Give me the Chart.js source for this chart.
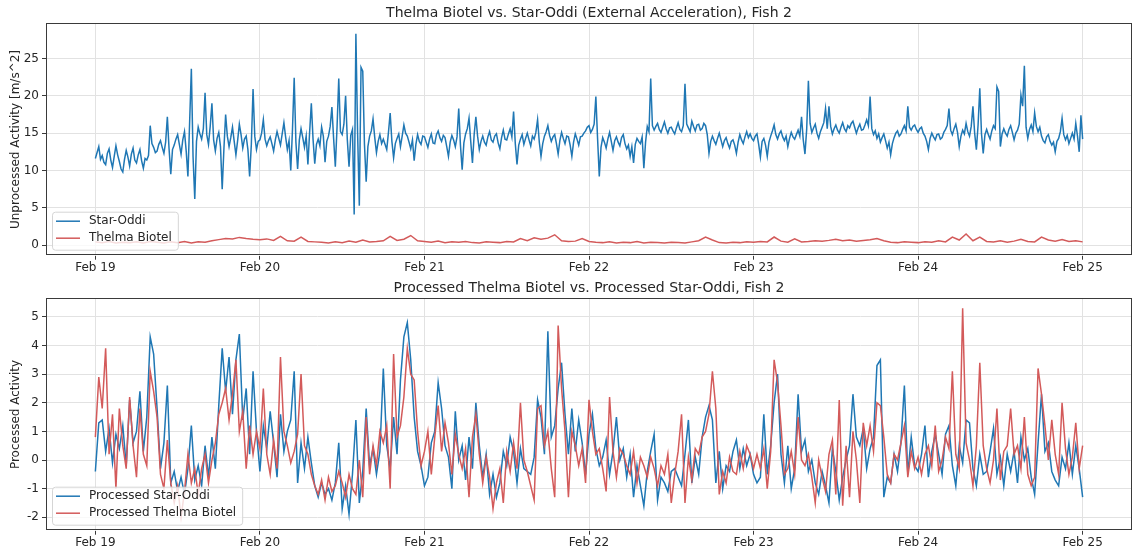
<!DOCTYPE html>
<html>
<head>
<meta charset="utf-8">
<script src="https://cdn.jsdelivr.net/npm/chart.js@4.4.1/dist/chart.umd.min.js"></script>
<style>
  body { margin: 0; background: #fff; }
  canvas { display: block; }
</style>
</head>
<body>
<canvas id="top" width="1134" height="275"></canvas>
<canvas id="bottom" width="1134" height="276"></canvas>
<script>
// x positions are hours since Feb 19 00:00
const dayLabels = ['Feb 19', 'Feb 20', 'Feb 21', 'Feb 22', 'Feb 23', 'Feb 24', 'Feb 25'];
const topYTicks = [0, 5, 10, 15, 20, 25];
const bottomYTicks = [-2, -1, 0, 1, 2, 3, 4, 5];

// Star-Oddi external acceleration, every 15 min (one row = 6 h)
const starOddi = [
  11.6, 12.4, 13.2, 11.5, 12.0, 11.1, 10.8, 12.3, 12.9, 11.4, 10.4, 11.9, 13.3, 12.1, 11.2, 10.2, 9.8, 11.5, 12.7, 11.8, 10.6, 12.2, 13.0, 11.4,
  11.0, 12.1, 12.8, 11.3, 10.3, 11.6, 11.4, 12.0, 16.0, 13.6, 13.1, 12.4, 12.6, 13.5, 14.0, 13.1, 12.3, 13.8, 17.2, 12.9, 9.5, 12.8, 13.4, 14.2,
  14.8, 13.5, 12.2, 14.1, 15.2, 12.6, 9.2, 16.5, 23.6, 11.8, 6.2, 13.9, 15.8, 14.9, 14.2, 15.6, 20.4, 14.8, 13.5, 15.9, 19.0, 14.1, 12.6, 14.3,
  15.1, 13.2, 7.5, 12.9, 17.5, 14.6, 13.2, 14.4, 15.8, 13.9, 12.1, 14.0, 16.2, 14.8, 13.0, 14.2, 14.6, 12.8, 9.2, 13.5, 20.9, 14.6, 12.8, 13.9,
  14.1, 15.0, 16.8, 14.2, 13.3, 14.0, 14.5, 13.6, 12.6, 14.1, 15.2, 14.3, 13.4, 14.9, 16.4, 14.5, 12.8, 14.0, 10.0, 15.5, 22.4, 13.8, 10.2, 14.1,
  15.6, 14.4, 13.1, 14.6, 10.8, 15.1, 19.0, 14.2, 10.9, 13.5, 14.2, 13.3, 15.8, 14.6, 11.1, 13.9, 14.6, 15.9, 18.5, 14.3, 10.5, 15.8, 22.3, 15.2,
  14.8, 16.2, 20.0, 14.1, 10.5, 14.7, 15.5, 4.1, 28.3, 15.0, 5.3, 23.8, 23.3, 13.5, 8.5, 13.2, 14.6, 15.3, 16.9, 14.4, 12.4, 13.9, 14.8, 13.6,
  14.2, 13.5, 12.8, 15.1, 17.7, 13.9, 11.7, 13.6, 14.3, 14.9, 13.2, 14.6, 16.1, 15.0, 14.6, 13.8, 12.9, 14.1, 11.3, 13.5, 14.8, 13.9, 13.5, 14.6,
  14.5, 13.8, 13.1, 14.2, 14.9, 13.7, 13.6, 14.8, 15.3, 14.4, 13.9, 14.7, 14.4, 13.2, 11.9, 13.8, 14.7, 14.1, 13.2, 14.5, 18.3, 13.4, 10.1, 13.7,
  14.9, 15.6, 17.0, 13.9, 11.0, 14.8, 17.2, 14.6, 12.8, 13.9, 14.6, 13.8, 13.4, 14.5, 15.2, 14.1, 13.8, 14.6, 14.9, 13.7, 12.9, 14.4, 15.4, 14.2,
  14.1, 14.9, 15.6, 14.5, 17.9, 13.6, 10.8, 13.4, 14.2, 14.8, 13.5, 14.3, 15.0, 14.1, 13.3, 14.6, 14.2, 15.1, 16.8, 13.8, 11.9, 13.6, 14.6, 15.2,
  16.0, 14.7, 13.9, 14.5, 14.8, 13.6, 12.2, 14.0, 15.1, 14.3, 13.6, 14.6, 14.5, 13.4, 11.9, 13.8, 14.9, 14.2, 13.4, 14.5, 14.6, 15.0, 15.3, 15.8,
  16.0, 15.1, 15.5, 16.2, 19.9, 14.3, 9.2, 13.1, 14.4, 13.8, 13.0, 14.2, 15.1, 13.9, 12.7, 14.0, 14.5, 13.8, 13.3, 14.4, 14.8, 13.6, 12.9, 13.4,
  11.9, 13.2, 11.0, 13.5, 14.3, 13.9, 13.6, 14.5, 10.3, 13.8, 15.9, 15.2, 22.3, 16.0, 15.4, 15.9, 16.3, 15.5, 15.1, 15.8, 16.5, 15.6, 15.0, 15.7,
  15.8, 15.3, 14.9, 15.7, 16.4, 15.5, 15.2, 16.0, 21.6, 16.2, 15.7, 15.2, 16.6, 15.9, 15.3, 16.1, 16.2, 15.4, 15.6, 16.3, 16.0, 14.8, 12.3, 13.9,
  14.6, 14.0, 13.5, 14.3, 15.0, 14.1, 13.2, 14.0, 14.4, 13.6, 13.0, 13.9, 14.1, 13.4, 12.3, 13.8, 14.8, 14.1, 13.6, 14.5, 15.2, 14.4, 14.9, 14.3,
  14.0, 14.6, 14.9, 13.5, 11.8, 13.9, 14.3, 13.4, 11.9, 13.8, 14.6, 15.3, 16.1, 14.8, 14.2, 14.9, 15.3, 14.5, 14.0, 14.6, 13.2, 14.3, 15.1, 14.5,
  14.2, 14.8, 15.4, 14.6, 17.2, 14.1, 12.2, 15.5, 22.0, 16.3, 15.1, 15.7, 16.2, 15.0, 14.3, 15.2, 15.8, 16.4, 18.3, 15.6, 18.6, 15.9, 14.9, 15.6,
  16.1, 15.4, 15.0, 15.8, 16.4, 15.6, 15.2, 16.0, 15.7, 16.3, 16.6, 15.8, 15.0, 15.7, 16.2, 15.4, 15.5, 16.1, 16.8, 16.0, 19.9, 15.6, 14.8, 15.3,
  14.3, 14.9, 13.8, 14.4, 14.9, 14.0, 13.0, 13.8, 12.1, 13.6, 14.4, 15.0, 15.3, 14.6, 14.9, 15.5, 16.0, 15.3, 18.6, 15.8, 15.4, 15.9, 16.1, 15.5,
  15.1, 15.6, 15.8, 15.0, 14.6, 13.9, 12.8, 14.3, 15.0, 14.5, 14.1, 14.8, 14.9, 14.2, 14.4, 15.1, 15.5, 16.0, 18.3, 15.4, 14.8, 15.6, 16.2, 15.1,
  13.2, 14.6, 15.4, 14.9, 16.3, 15.2, 14.6, 15.9, 18.6, 15.0, 12.8, 16.1, 21.0, 14.9, 12.3, 14.8, 15.5, 14.8, 14.2, 15.3, 16.0, 15.6, 21.2, 20.6,
  13.2, 14.9, 15.6, 15.0, 14.6, 15.5, 16.0, 15.1, 14.1, 15.0, 15.4, 16.2, 20.1, 18.6, 24.0, 15.8, 14.3, 15.5, 16.1, 15.2, 17.7, 15.9, 15.2, 15.8,
  14.6, 14.0, 13.7, 14.5, 14.8, 13.9, 13.4, 13.8, 12.5, 13.9, 14.3, 15.2, 17.0, 14.8, 14.1, 14.7, 13.6, 14.3, 15.0, 14.2, 16.3, 14.6, 12.5, 17.4,
  14.2
];

// Thelma Biotel, every hour
const thelma = [
  0.45, 0.35, 0.5, 0.3, 0.4, 0.35, 0.45, 0.3, 0.5, 0.4, 0.3, 0.45,
  0.35, 0.5, 0.3, 0.45, 0.4, 0.6, 0.75, 0.9, 0.85, 1.05, 0.9, 0.8,
  0.75, 0.85, 0.65, 1.2, 0.6, 0.55, 1.1, 0.5, 0.45, 0.4, 0.3, 0.45,
  0.35, 0.55, 0.4, 0.7, 0.45, 0.5, 0.6, 1.2, 0.65, 0.8, 1.3, 0.6,
  0.5, 0.4, 0.55, 0.35, 0.45, 0.4, 0.5, 0.35, 0.3, 0.45, 0.4, 0.35,
  0.5, 0.45, 0.9, 0.6, 1.0, 0.8, 0.95, 1.4, 0.6, 0.5, 0.55, 0.9,
  0.5, 0.4, 0.35, 0.45, 0.3, 0.4, 0.35, 0.5, 0.3, 0.4, 0.35, 0.3,
  0.4, 0.35, 0.3, 0.45, 0.6, 1.1, 0.7, 0.35, 0.3, 0.4, 0.35, 0.45,
  0.4, 0.5, 0.45, 1.1, 0.55, 0.4, 0.85, 0.45, 0.5, 0.6, 0.55, 0.65,
  0.8, 0.6, 0.7, 0.55, 0.65, 0.75, 0.9, 0.6, 0.4, 0.35, 0.45, 0.4,
  0.35, 0.45, 0.4, 0.6, 0.45, 1.1, 0.7, 1.5, 0.6, 1.1, 0.5, 0.45,
  0.6, 0.4, 0.55, 0.8, 0.5, 0.45, 1.1, 0.7, 0.55, 0.75, 0.5, 0.6,
  0.45
];

// processed series, every 30 min
const procStarOddi = [
  -0.4, 1.3, 1.4, 0.3, 1.1, -0.1, 0.9, 0.4, 1.2, -0.2, 2.1, 0.6,
  1.0, 2.4, 0.3, 1.5, 4.3, 3.7, 1.8, -0.3, 0.6, 2.6, -0.8, -0.4,
  -1.1, -0.6, -1.2, -0.3, 1.2, -0.7, -0.2, -0.9, 0.5, -0.6, 0.8, -0.3,
  1.9, 3.9, 2.4, 3.6, 1.6, 3.5, 4.4, 1.4, 2.5, 0.2, 3.1, 1.0,
  -0.4, 1.2, 0.4, 1.7, 0.6, -0.6, 1.6, 0.3, 1.0, 1.4, 3.1, -0.8,
  0.6, -0.3, 0.8, -0.1, -0.9, -1.3, -0.8, -1.2, -1.0, -1.4, -0.8, 0.6,
  -1.7, -0.9, -1.9, -0.5, 1.4, -1.5, -0.4, 1.8, -0.2, 0.4, -0.5, 0.3,
  3.2, 0.5, -0.3, 1.5, 0.2, 2.8, 4.3, 4.8, 3.5, 1.5, 0.3, -0.2,
  -0.9, -0.6, 0.6, 1.0, 2.7, 1.8, 0.5, 0.1, -1.0, 1.7, 0.0, 0.5,
  -0.7, 0.8, -0.3, 2.0, 0.5, -0.6, 0.2, -1.2, -0.5, -1.3, -0.8, 0.3,
  -0.2, 0.8, 0.3, -0.8, 0.4, -0.3, -0.4, -0.5, 0.1, 2.1, 1.5, 0.2,
  4.5, 0.8, 1.2, 2.5, 3.4, 1.6, 0.2, 1.8, 0.3, 1.4, 0.6, -0.5,
  0.9, 1.6, 0.4, -0.2, 0.1, 0.7, -0.5, 0.3, 1.5, 0.0, 0.4, -0.6,
  0.2, -1.3, -0.2, -0.9, -1.6, -0.4, 0.3, 0.9, -1.4, -0.6, -0.8, -1.1,
  -0.4, -0.3, -0.6, -0.9, 0.2, 1.4, -0.8, 0.1, -0.5, 0.8, 1.5, 1.9,
  1.4, -0.8, 0.3, -1.0, -0.2, -0.4, 0.3, 0.7, -0.3, 0.4, -0.2, 0.2,
  -0.5, -0.8, -0.6, 1.6, -0.5, 0.5, 2.0, 3.0, 0.2, -0.8, 0.5, -1.0,
  -0.3, 2.3, 0.3, 0.7, -0.4, 0.0, -0.8, -1.2, -0.4, -0.9, -1.5, 0.4,
  -0.4, -1.4, -0.6, 0.0, 0.5, 2.3, 0.8, 0.5, 1.1, -0.3, 0.4, 0.8,
  3.3, 3.5, -1.3, -0.6, -0.8, 0.2, -0.4, 0.6, 2.6, -0.5, 0.8, -0.2,
  -0.4, 0.2, 1.2, -0.6, 0.3, 0.9, 0.2, -0.5, 0.9, 1.2, -0.2, -0.9,
  0.5, -0.1, 1.4, 1.3, -0.3, -0.9, 0.2, -0.5, -0.4, 0.3, 1.1, -0.5,
  0.1, -0.9, 0.2, -0.4, 0.3, -0.8, 0.8, 0.0, 0.4, -0.6, -1.2, 0.6,
  2.3, 0.3, 0.6, -0.4, -0.7, -0.9, 0.1, -0.3, 0.6, -0.5, 0.5, -0.3,
  -1.3
];

const procThelma = [
  0.8, 2.9, 1.8, 3.9, 0.2, 1.6, -1.0, 1.8, 0.5, -0.3, 2.2, 0.5,
  -0.6, 1.8, 0.2, -0.2, 3.1, 2.4, 1.5, -0.5, -1.0, 0.7, -0.8, -1.5,
  -0.9, -2.0, -1.1, 0.2, -0.8, -0.3, -1.2, -0.3, 0.2, -0.8, 0.0, 0.6,
  1.6, 2.0, 2.5, 1.4, 2.3, 3.5, 1.0, 1.7, -0.3, 1.2, 0.2, 1.0,
  0.4, 2.5, 0.2, -0.5, 0.7, -0.3, 3.6, 1.0, 0.5, -0.1, 0.3, 0.9,
  3.0, 0.5, 0.2, -0.5, -0.9, -1.2, -0.7, -1.4, -0.6, -1.1, -0.9, -0.4,
  -0.8, -1.3, -0.5, -1.0, -1.2, 0.0, -1.3, 1.5, -0.5, 0.5, -0.2, 1.0,
  0.6, 1.2, -1.0, 3.7, 0.8, 1.2, 2.2, 3.9, 3.0, 2.8, 1.0, -0.2,
  0.3, 1.0, -0.5, 0.8, 1.9, 0.3, 1.3, 0.6, -0.5, 0.9, 0.2, -0.3,
  0.4, -1.3, 0.8, 1.6, 0.2, -0.8, 0.1, -0.6, -1.7, -0.8, -0.3, -1.5,
  0.3, -0.4, 0.6, -0.3, 2.0, 0.0, -0.4, -0.9, -1.4, 1.8, 1.9, 0.5,
  1.0, -0.3, -1.3, 4.7, 2.5, 1.0, -1.3, 1.0, 0.5, -0.2, 0.4, -0.8,
  2.1, 1.0, 0.2, 0.4, -0.3, -1.1, 2.2, 0.3, -0.6, 0.4, 0.2, -0.2,
  -0.5, 0.3, -0.8, 0.1, -0.2, -0.6, 0.1, -0.3, -0.9, -0.2, -0.5, 0.2,
  -1.5, -0.5, 0.3, 1.6, -1.5, 0.1, -0.7, 0.4, 0.2, 0.8, 1.0, 1.6,
  3.1, 1.8, -1.2, -0.4, -0.8, 0.1, -0.4, -0.5, 0.3, -0.3, 0.5, 0.2,
  -0.3, 0.2, -0.3, 0.4, -1.0, 0.3, 3.5, 2.7, 1.2, -0.5, -0.3, 0.3,
  -0.5, 1.5, 0.0, -0.2, 0.2, -0.6, -1.5, 0.0, -0.6, -1.1, 0.2, 0.7,
  -1.2, 2.1, -1.6, 0.5, -1.3, 1.0, 0.0, -1.5, 1.3, 0.5, 1.2, 0.3,
  2.0, 1.9, 0.8, -0.5, -0.8, 0.2, 0.0, 0.6, 1.2, -0.6, 0.3, -0.3,
  0.1, -0.5, 0.2, 0.5, -0.2, 1.2, -0.4, 0.0, 0.8, 0.4, 3.1, 0.2,
  -0.3, 5.3, 0.6, 0.0, -0.9, 0.5, 3.4, 0.5, -0.3, -0.8, 0.0, 1.8,
  -0.7, 0.3, 0.5, 1.8, 0.2, 0.5, -0.3, 1.5, -0.5, -0.9, -0.6, 3.2,
  2.3, 1.2, 0.0, 1.4, 0.2, -0.5, 2.0, 0.4, -0.5, 0.1, 1.3, -0.3,
  0.5
];

const BLUE = '#1f77b4';
const RED = '#d35a5a';
const FONT = "'DejaVu Sans', sans-serif";
const TEXT = '#262626';

function series(values, step) {
  return values.map((v, i) => ({ x: i * step, y: v }));
}

// frame, title over the plot area and a legend in the lower left corner
const framePlugin = {
  id: 'frame',
  afterDraw(chart, args, opts) {
    const { ctx, chartArea: a } = chart;
    ctx.save();
    ctx.strokeStyle = '#3a3a3a';
    ctx.lineWidth = 1;
    ctx.strokeRect(Math.round(a.left) + 0.5, Math.round(a.top) + 0.5,
      Math.round(a.right - a.left) - 1, Math.round(a.bottom - a.top) - 1);

    ctx.fillStyle = TEXT;
    ctx.font = '14px ' + FONT;
    ctx.textAlign = 'center';
    ctx.textBaseline = 'middle';
    ctx.fillText(opts.title, (a.left + a.right) / 2, 13);

    ctx.font = '12px ' + FONT;
    ctx.textAlign = 'left';
    const sets = chart.data.datasets;
    const w = Math.max(...sets.map(d => ctx.measureText(d.label).width));
    const bx = a.left + 6, by = a.bottom - 44, bw = 37 + w + 6, bh = 38;
    ctx.beginPath();
    ctx.roundRect(bx + 0.5, by + 0.5, bw, bh, 3);
    ctx.fillStyle = 'rgba(255,255,255,0.8)';
    ctx.fill();
    ctx.strokeStyle = '#d5d5d5';
    ctx.stroke();
    sets.forEach((d, i) => {
      const y = by + 9.5 + i * 17;
      ctx.strokeStyle = d.borderColor;
      ctx.lineWidth = 1.5;
      ctx.beginPath();
      ctx.moveTo(bx + 4, y);
      ctx.lineTo(bx + 28, y);
      ctx.stroke();
      ctx.fillStyle = TEXT;
      ctx.fillText(d.label, bx + 37, y);
    });
    ctx.restore();
  }
};

function makeChart(id, datasets, title, yTitle, yMin, yMax, yTicks, xHeight) {
  return new Chart(document.getElementById(id), {
    type: 'line',
    data: { datasets },
    options: {
      responsive: false,
      animation: false,
      devicePixelRatio: 1,
      layout: { padding: { top: 23.3, right: 2, left: 0, bottom: 0 } },
      elements: { point: { radius: 0 }, line: { borderWidth: 1.5, tension: 0 } },
      plugins: { legend: { display: false }, tooltip: { enabled: false }, frame: { title } },
      scales: {
        x: {
          type: 'linear', min: -7.2, max: 151.2,
          afterBuildTicks: ax => { ax.ticks = dayLabels.map((_, i) => ({ value: i * 24 })); },
          afterFit: ax => { ax.height = xHeight; },
          border: { display: false },
          grid: { color: '#e2e2e2', tickColor: '#3a3a3a', tickLength: 4 },
          ticks: {
            callback: v => dayLabels[v / 24], autoSkip: false, maxRotation: 0,
            padding: 1, color: TEXT, font: { family: FONT, size: 12 }
          }
        },
        y: {
          min: yMin, max: yMax,
          afterBuildTicks: ax => { ax.ticks = yTicks.map(v => ({ value: v })); },
          afterFit: ax => { ax.width = 46; },
          border: { display: false },
          grid: { color: '#e2e2e2', tickColor: '#3a3a3a', tickLength: 4 },
          ticks: { padding: 3, color: TEXT, font: { family: FONT, size: 12 } },
          title: {
            display: true, text: yTitle, color: TEXT,
            font: { family: FONT, size: 12 }, padding: { top: 9, bottom: 0 }
          }
        }
      }
    },
    plugins: [framePlugin]
  });
}

makeChart('top', [
  { label: 'Star-Oddi', data: series(starOddi, 0.25), borderColor: BLUE, order: 2 },
  { label: 'Thelma Biotel', data: series(thelma, 1), borderColor: RED, order: 1 }
], 'Thelma Biotel vs. Star-Oddi (External Acceleration), Fish 2',
  'Unprocessed Activity [m/s^2]', -1.4, 29.7, topYTicks, 19.3);

makeChart('bottom', [
  { label: 'Processed Star-Oddi', data: series(procStarOddi, 0.5), borderColor: BLUE, order: 2 },
  { label: 'Processed Thelma Biotel', data: series(procThelma, 0.5), borderColor: RED, order: 1 }
], 'Processed Thelma Biotel vs. Processed Star-Oddi, Fish 2',
  'Processed Activity', -2.47, 5.65, bottomYTicks, 20.3);
</script>
</body>
</html>
